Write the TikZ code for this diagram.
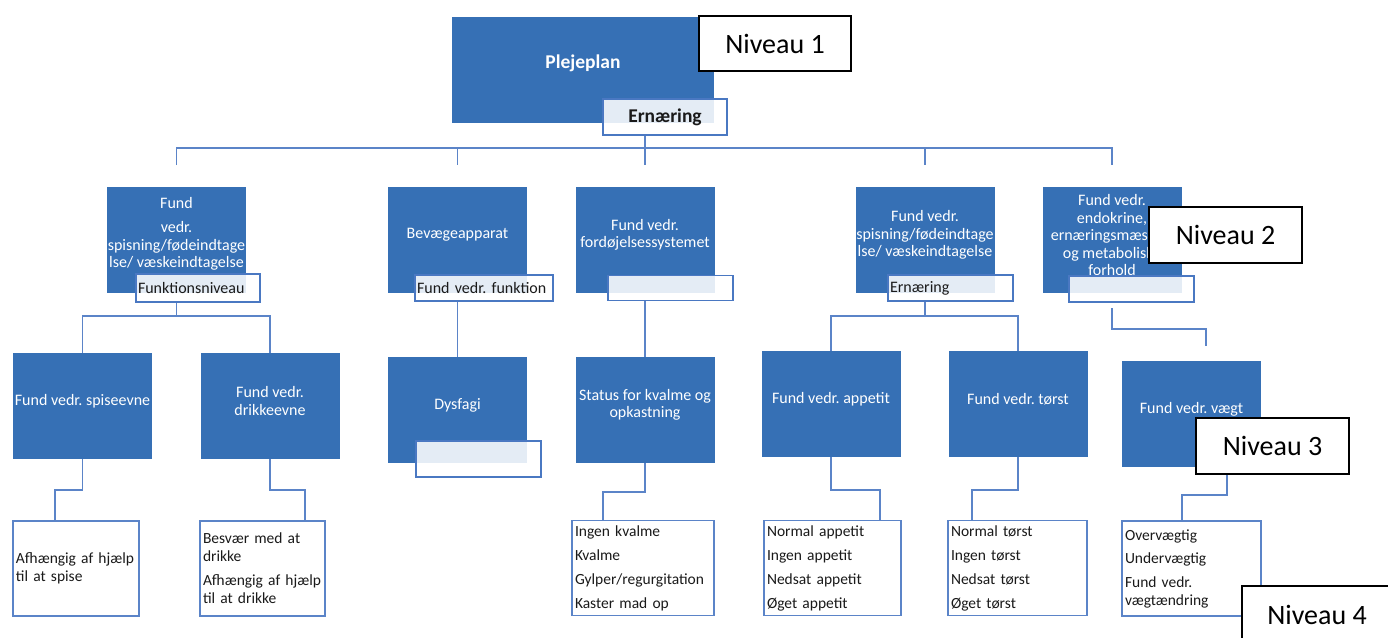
\documentclass[tikz,border=0pt]{standalone}
\usepackage{fontspec}
\setmainfont{Carlito}
\definecolor{boxblue}{HTML}{3670B5}
\definecolor{lineblue}{HTML}{5B84C8}
\definecolor{edgeblue}{HTML}{4A78C2}
\definecolor{txt}{HTML}{1A1A1A}
\frenchspacing
\tikzset{
 bbox/.style={fill=boxblue, draw=none, inner sep=0pt, outer sep=0pt, minimum width=139pt, minimum height=106pt},
 wtext/.style={text=white, align=center, font=\fontsize{16}{17.5}\selectfont, inner sep=0pt},
 lbl/.style={draw=edgeblue, line width=1.2pt, fill=white, fill opacity=0.87, text opacity=1, text=txt, font=\fontsize{16}{18}\selectfont, inner xsep=2pt, inner ysep=0pt, align=left, outer sep=0pt},
 leaf/.style={draw=lineblue, line width=1.3pt, fill=white, text=txt, align=left, font=\fontsize{15.5}{18}\selectfont, inner xsep=3pt, minimum height=95pt, outer sep=0pt},
 conn/.style={draw=lineblue, line width=1.5pt},
 niv/.style={draw=black, line width=2pt, fill=white, text=black, font=\fontsize{28}{32}\selectfont, inner sep=0pt},
}
\begin{document}
\begin{tikzpicture}[x=1pt,y=-1pt]
\useasboundingbox[fill=white] (0,0) rectangle (1388,637);
% level 1
\node[bbox, minimum width=262pt, minimum height=106pt] (plan) at (583,70) {};
\node[text=white, font=\fontsize{19.5}{22}\selectfont\bfseries] (plant) at (583,63) {Plejeplan};
% level 2 boxes
\node[bbox] (b1) at (176.5,240) {};
\node[bbox] (b2) at (457.5,240) {};
\node[bbox] (b3) at (645,240) {};
\node[bbox] (b4) at (925,240) {};
\node[bbox] (b5) at (1112,240) {};
\node[wtext] (b1t) at (176.5,234) {Fund\\[6.5pt]vedr.\\spisning/fødeindtage\\lse/ væskeindtagelse};
\node[wtext] (b2t) at (457.5,235) {Bevægeapparat};
\node[wtext] (b3t) at (645,235) {Fund vedr.\\fordøjelsessystemet};
\node[wtext] (b4t) at (925,235) {Fund vedr.\\spisning/fødeindtage\\lse/ væskeindtagelse};
\node[wtext] (b5t) at (1112,235) {Fund vedr.\\endokrine,\\ernæringsmæssige\\og metaboliske\\forhold};
% level 3 boxes
\node[bbox] (s1) at (82.5,406) {};
\node[bbox] (s2) at (270,406) {};
\node[bbox] (s3) at (457.5,410) {};
\node[bbox] (s4) at (645,410) {};
\node[bbox] (s5) at (831,404) {};
\node[bbox] (s6) at (1018,404) {};
\node[bbox] (s7) at (1191.5,414) {};
\node[wtext] (s1t) at (82.5,401) {Fund vedr. spiseevne};
\node[wtext] (s2t) at (270,401) {Fund vedr.\\drikkeevne};
\node[wtext] (s3t) at (457.5,405) {Dysfagi};
\node[wtext] (s4t) at (645,405) {Status for kvalme og\\opkastning};
\node[wtext] (s5t) at (831,399) {Fund vedr. appetit};
\node[wtext] (s6t) at (1018,399) {Fund vedr. tørst};
\node[wtext] (s7t) at (1191.5,409) {Fund vedr. vægt};
% level 4 boxes
\node[leaf, minimum width=126pt, text width=120pt] (t1) at (76,568.5) {Afhængig af hjælp\\til at spise};
\node[leaf, minimum width=125pt, text width=119pt] (t2) at (262.5,568.5) {Besvær med at\\drikke\\[6pt]Afhængig af hjælp\\til at drikke};
\node[leaf, minimum width=142pt, text width=136pt] (t3) at (643,568) {Ingen kvalme\\[6pt]Kvalme\\[6pt]Gylper/regurgitation\\[6pt]Kaster mad op};
\node[leaf, minimum width=137pt, text width=131pt] (t4) at (832.5,568) {Normal appetit\\[6pt]Ingen appetit\\[6pt]Nedsat appetit\\[6pt]Øget appetit};
\node[leaf, minimum width=139pt, text width=133pt] (t5) at (1017.5,568) {Normal tørst\\[6pt]Ingen tørst\\[6pt]Nedsat tørst\\[6pt]Øget tørst};
\node[leaf, minimum width=139pt, text width=133pt] (t6) at (1191.5,568.5) {Overvægtig\\[5pt]Undervægtig\\[6pt]Fund vedr.\\vægtændring};
% connectors top
\draw[conn] (b1.north |- 0,165) -- (b1.north |- 0,148) -- (b5.north |- 0,148) -- (b5.north |- 0,165);
\draw[conn] (b2.north |- 0,148) -- (b2.north |- 0,165);
\draw[conn] (b3.north |- 0,135) -- (b3.north |- 0,165);
\draw[conn] (b4.north |- 0,148) -- (b4.north |- 0,165);
% level 2 -> 3
\draw[conn] (b1.south |- 0,302) -- (b1.south |- 0,316);
\draw[conn] (s1.north) -- (s1.north |- 0,316) -- (s2.north |- 0,316) -- (s2.north);
\draw[conn] (b2.south |- 0,301) -- (s3.north);
\draw[conn] (b3.south |- 0,300) -- (s4.north);
\draw[conn] (b4.south |- 0,301) -- (b4.south |- 0,316);
\draw[conn] (s5.north) -- (s5.north |- 0,316) -- (s6.north |- 0,316) -- (s6.north);
\coordinate (c5a) at (1112,308);
\coordinate (c5b) at (1206,346);
\draw[conn] (c5a) -- (1112,329) -| (c5b);
% level 3 -> 4
\draw[conn] (s1.south) -- (s1.south |- 0,490) -| (t1.north -| 55,0);
\draw[conn] (s2.south) -- (s2.south |- 0,490) -| (t2.north -| 305,0);
\draw[conn] (s4.south) -- (s4.south |- 0,492) -| (t3.north -| 603,0);
\draw[conn] (s5.south) -- (s5.south |- 0,490) -| (t4.north -| 880,0);
\draw[conn] (s6.south) -- (s6.south |- 0,490) -| (t5.north -| 972,0);
\coordinate (c7) at (1227,474);
\draw[conn] (c7) -- (1227,495) -| (t6.north -| 1182,0);
% labels
\node[lbl, minimum width=124pt, minimum height=36pt, align=center, font=\fontsize{19.5}{22}\selectfont\bfseries] (el) at (665,117) {Ernæring};
\node[lbl, minimum width=124pt, minimum height=28pt, text width=120pt] (l1) at (198,288) {Funktionsniveau};
\node[lbl, minimum width=138pt, minimum height=26pt, text width=134pt] (l2) at (484,288) {Fund vedr. funktion};
\node[lbl, minimum width=125pt, minimum height=25pt, text width=121pt] (l3) at (670.5,288) {};
\node[lbl, minimum width=125pt, minimum height=26pt, text width=121pt] (l4) at (950.5,288) {Ernæring};
\node[lbl, minimum width=125pt, minimum height=26pt, text width=121pt] (l5) at (1131.5,289) {};
\node[lbl, minimum width=125pt, minimum height=36pt, text width=121pt] (ls3) at (478.5,459) {};
% niveau boxes
\node[niv, minimum width=152pt, minimum height=55pt] (n1) at (775,43.5) {Niveau 1};
\node[niv, minimum width=153pt, minimum height=56pt] (n2) at (1225.5,235) {Niveau 2};
\node[niv, minimum width=153pt, minimum height=56pt] (n3) at (1272.5,446) {Niveau 3};
\node[niv, minimum width=150pt, minimum height=58pt] (n4) at (1317,615) {Niveau 4};
\end{tikzpicture}
\end{document}
